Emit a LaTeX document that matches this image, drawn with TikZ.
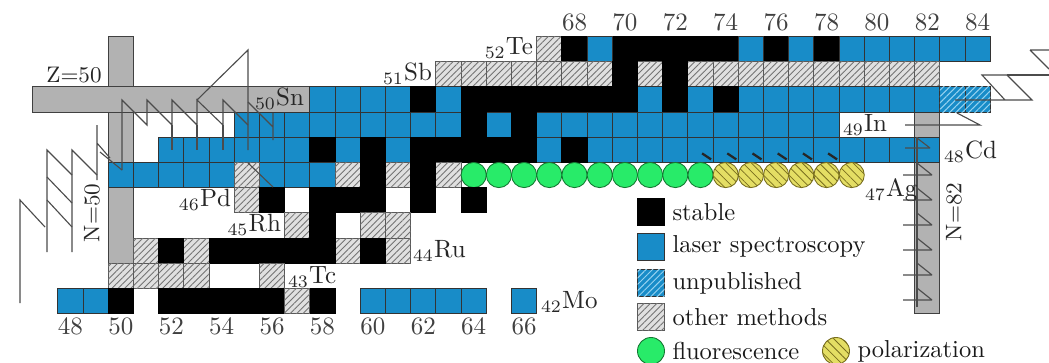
\documentclass[tikz,border=0pt]{standalone}
\usetikzlibrary{patterns.meta}
\definecolor{laserblue}{RGB}{24,140,200}
\definecolor{unpubline}{RGB}{150,210,240}
\definecolor{fluogreen}{RGB}{40,235,105}
\definecolor{fluoline}{RGB}{20,120,50}
\definecolor{polaryellow}{RGB}{228,222,100}
\definecolor{polarline}{RGB}{120,110,30}
\definecolor{bargray}{RGB}{178,178,178}
% one row of cells: Z, style, list of N
\newcommand\cells[3]{\foreach \n in {#3} \node[#2] (c\n-#1) at ({70.5+(\n-48)*25.2},{49+(52-#1)*25.2}) {};}

\begin{document}
\begin{tikzpicture}[x=0.4pt, y=-0.4pt,
  cellbox/.style={rectangle, minimum size=10.08pt, inner sep=0pt, outer sep=0pt, line width=0.35pt},
  stab/.style={cellbox, draw=black, fill=black},
  laser/.style={cellbox, draw=black!80, fill=laserblue},
  unpub/.style={cellbox, draw=black!80, fill=laserblue, postaction={pattern color=unpubline, pattern={Lines[angle=45,distance=1.8pt,line width=0.4pt]}}},
  other/.style={cellbox, draw=black!65, fill=black!12, postaction={pattern color=black!55, pattern={Lines[angle=45,distance=1.8pt,line width=0.35pt]}}},
  fluo/.style={circle, minimum size=10.08pt, inner sep=0pt, outer sep=0pt, draw=fluoline, fill=fluogreen, line width=0.35pt},
  polar/.style={circle, minimum size=10.08pt, inner sep=0pt, outer sep=0pt, draw=polarline, fill=polaryellow, line width=0.35pt, postaction={pattern color=polarline, pattern={Lines[angle=-45,distance=2.4pt,line width=0.3pt]}}},
  bar/.style={draw=black!75, fill=bargray, line width=0.4pt},
  saw/.style={draw=black!70, line width=0.45pt},
  tick/.style={draw=black!85, line width=0.9pt},
  elab/.style={font=\fontsize{10}{12}\selectfont, text=black!85, inner sep=1pt},
  num/.style={font=\fontsize{10}{12}\selectfont, text=black!75},
  legtxt/.style={font=\fontsize{9.8}{12}\selectfont, text=black!90, anchor=west, inner sep=0pt}]
\useasboundingbox (0,0) rectangle (1049,362);

% magic number bars
\draw[bar] (108.3,36.4) rectangle (133.5,263.2);
\draw[bar] (32,86.8) rectangle (309.9,112);
\draw[bar] (914.7,112) rectangle (939.9,313);

% Z=52 Te
\cells{52}{other}{67}
\cells{52}{stab}{68,70,71,72,73,74,76,78}
\cells{52}{laser}{69,75,77,79,80,81,82,83,84}
% Z=51 Sb
\cells{51}{other}{63,64,65,66,67,68,69,71,73,74,75,76,77,78,79,80,81,82}
\cells{51}{stab}{70,72}
% Z=50 Sn
\cells{50}{laser}{58,59,60,61,63,71,73,75,76,77,78,79,80,81,82}
\cells{50}{stab}{62,64,65,66,67,68,69,70,72,74}
\cells{50}{unpub}{83,84}
% Z=49 In
\cells{49}{laser}{55,56,57,58,59,60,61,62,63,65,67,68,69,70,71,72,73,74,75,76,77,78}
\cells{49}{stab}{64,66}
% Z=48 Cd
\cells{48}{laser}{52,53,54,55,56,57,59,61,67,69,70,71,72,73,74,75,76,77,78,79,80,81,82}
\cells{48}{stab}{58,60,62,63,64,65,66,68}
% Z=47 Ag
\cells{47}{laser}{50,51,52,53,54,56,57,58}
\cells{47}{other}{55,59,61,63}
\cells{47}{stab}{60,62}
\cells{47}{fluo}{64,65,66,67,68,69,70,71,72,73}
\cells{47}{polar}{74,75,76,77,78,79}
% Z=46 Pd
\cells{46}{other}{55}
\cells{46}{stab}{56,58,59,60,62,64}
% Z=45 Rh
\cells{45}{other}{57,60,61}
\cells{45}{stab}{58}
% Z=44 Ru
\cells{44}{other}{51,53,59,61}
\cells{44}{stab}{52,54,55,56,57,58,60}
% Z=43 Tc
\cells{43}{other}{50,51,52,53,56}
% Z=42 Mo
\cells{42}{laser}{48,49,60,61,62,63,64,66}
\cells{42}{stab}{50,52,53,54,55,56,58}
\cells{42}{other}{57}

% isomer marks in Cd
\foreach \n in {73,...,78}
  \draw[tick] ([shift={(-11,-9)}]c\n-48.south east) -- ([shift={(-2,-3)}]c\n-48.south east);

% odd-even staggering lines
\draw[saw] (122,170)--(122,100)--(147,125)--(147,100)--(172,125)--(172,100)--(197,125)--(197,100)--(223,125)--(223,100)--(248,125);
\draw[saw] (197,100)--(248,50)--(248,150);
\draw[saw] (172,125)--(172,150) (197,125)--(197,150) (223,125)--(223,150);
\draw[saw] (248,102)--(273,127)--(273,113) (273,127)--(273,140);
\draw[saw] (100,152)--(122,170);
\draw[saw] (248,163)--(273,187);
\draw[saw] (97,125)--(97,180) (97,143)--(110,158);
\draw[saw] (47,252)--(47,150)--(72,175);
\draw[saw] (72,252)--(72,150)--(97,175);
\draw[saw] (47,177)--(72,203) (47,200)--(72,227);
\draw[saw] (20,303)--(20,200)--(45,227);
\draw[saw] (917,137)--(917,307);
\foreach \y in {175,200,225,250,275,300}
  \draw[saw] (903,\y)--(932,\y) (917,\y-12)--(932,\y);
\draw[saw] (905,148)--(930,148) (917,138)--(930,148);
\draw[saw] (905,125)--(980,125)--(957,113);
\draw[saw] (955,100)--(1032,100)--(1007,75)--(982,75)--(1005,100);
\draw[saw] (1007,75)--(1049,75);
\draw[saw] (1030,50)--(1049,50) (1030,50)--(1049,69);

% labels
\node[elab, anchor=east] (lTe) at (536,48) {\textsubscript{52}Te};
\node[elab, anchor=east] (lSb) at (435,74) {\textsubscript{51}Sb};
\node[elab, anchor=east] (lSn) at (307,99) {\textsubscript{50}Sn};
\node[elab, anchor=west] (lIn) at (840,125) {\textsubscript{49}In};
\node[elab, anchor=west] (lCd) at (941,152) {\textsubscript{48}Cd};
\node[elab, anchor=west] (lAg) at (862,190) {\textsubscript{47}Ag};
\node[elab, anchor=east] (lPd) at (234,200) {\textsubscript{46}Pd};
\node[elab, anchor=east] (lRh) at (284,225) {\textsubscript{45}Rh};
\node[elab, anchor=west] (lRu) at (410,251) {\textsubscript{44}Ru};
\node[elab, anchor=west] (lTc) at (285,277) {\textsubscript{43}Tc};
\node[elab, anchor=west] (lMo) at (538,302) {\textsubscript{42}Mo};
\node[elab, font=\fontsize{9}{11}\selectfont] (lZ) at (74,75) {Z=50};
\node[elab, rotate=90, font=\fontsize{9}{11}\selectfont] (lN50) at (92,213) {N=50};
\node[elab, rotate=90, font=\fontsize{9}{11}\selectfont] (lN82) at (954,212) {N=82};

% neutron numbers
\foreach \n in {48,50,...,66}
  \node[num] (n\n) at ({70.5+(\n-48)*25.2},326) {\n};
\foreach \n in {68,70,...,84}
  \node[num] (n\n) at ({70.5+(\n-48)*25.2},22) {\n};

% legend
\node[stab, minimum size=10.8pt] (kStab) at (651,212) {};
\node[laser, minimum size=10.8pt] (kLaser) at (651,247) {};
\node[unpub, minimum size=10.8pt] (kUnpub) at (651,283) {};
\node[other, minimum size=10.8pt] (kOther) at (651,317) {};
\node[fluo, minimum size=10.8pt] (kFluo) at (651,351) {};
\node[polar, minimum size=10.8pt] (kPolar) at (836,351) {};
\node[legtxt] at ([xshift=3pt]kStab.east) {stable};
\node[legtxt] at ([xshift=3pt]kLaser.east) {laser spectroscopy};
\node[legtxt] at ([xshift=3pt]kUnpub.east) {unpublished};
\node[legtxt] at ([xshift=3pt]kOther.east) {other methods};
\node[legtxt] at ([xshift=3pt]kFluo.east) {fluorescence};
\node[legtxt] at ([xshift=3pt]kPolar.east) {polarization};
\end{tikzpicture}
\end{document}
